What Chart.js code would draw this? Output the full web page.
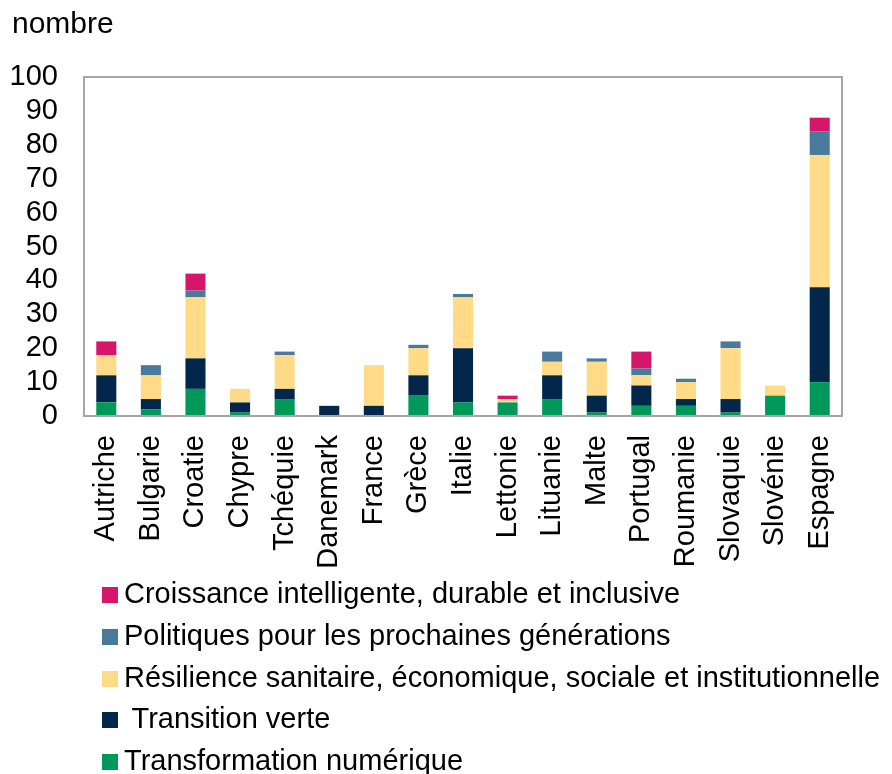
<!DOCTYPE html>
<html>
<head>
<meta charset="utf-8">
<script src="https://cdn.jsdelivr.net/npm/chart.js@4"></script>
<style>
  html, body { margin: 0; padding: 0; background: #fff; }
  #wrap { position: relative; width: 892px; height: 774px; font-family: "Liberation Sans", Arial, sans-serif; color: #000; }
  #c { position: absolute; left: 0; top: 0; }
  .unit { position: absolute; left: 12px; top: 8px; font-size: 30px; line-height: 30px; }
  .leg { position: absolute; left: 102px; font-size: 29px; line-height: 28px; white-space: pre; }
  .leg span.box { display: inline-block; width: 16px; height: 16px; margin-right: 6px; vertical-align: 0px; }
</style>
</head>
<body>
<div id="wrap">
  <canvas id="c" width="892" height="774"></canvas>
  <div class="unit">nombre</div>
  <div id="legend"></div>
</div>
<script>
const categories = ["Autriche","Bulgarie","Croatie","Chypre","Tchéquie","Danemark","France","Grèce","Italie","Lettonie","Lituanie","Malte","Portugal","Roumanie","Slovaquie","Slovénie","Espagne"];
const transformationNumerique = [4, 2, 8, 1, 5, 0, 0, 6, 4, 4, 5, 1, 3, 3, 1, 6, 10];
const transitionVerte         = [8, 3, 9, 3, 3, 3, 3, 6, 16, 0, 7, 5, 6, 2, 4, 0, 28];
const resilience              = [6, 7, 18, 4, 10, 0, 12, 8, 15, 1, 4, 10, 3, 5, 15, 3, 39];
const politiques              = [0, 3, 2, 0, 1, 0, 0, 1, 1, 0, 3, 1, 2, 1, 2, 0, 7];
const croissance              = [4, 0, 5, 0, 0, 0, 0, 0, 0, 1, 0, 0, 5, 0, 0, 0, 4];
const yTicks = [0,10,20,30,40,50,60,70,80,90,100];

const seriesNames = {
  croissance: "Croissance intelligente, durable et inclusive",
  politiques: "Politiques pour les prochaines générations",
  resilience: "Résilience sanitaire, économique, sociale et institutionnelle",
  verte: " Transition verte",
  numerique: "Transformation numérique"
};
const colors = {
  croissance: "#D6166A",
  politiques: "#4A799C",
  resilience: "#FFDA87",
  verte: "#03274A",
  numerique: "#009959"
};

const FONT = "'Liberation Sans', Arial, sans-serif";

const boxPlugin = {
  id: 'box',
  afterDraw(chart) {
    const a = chart.chartArea, ctx = chart.ctx;
    ctx.save();
    ctx.strokeStyle = '#A6A6A6';
    ctx.lineWidth = 2;
    ctx.strokeRect(a.left, a.top, a.right - a.left, a.bottom - a.top);
    ctx.restore();
  }
};

const ds = (key, data) => ({
  label: seriesNames[key], data, backgroundColor: colors[key], borderWidth: 0,
  barPercentage: 0.45, categoryPercentage: 1.0, stack: 's'
});

new Chart(document.getElementById('c'), {
  type: 'bar',
  data: {
    labels: categories,
    datasets: [
      ds('numerique', transformationNumerique),
      ds('verte', transitionVerte),
      ds('resilience', resilience),
      ds('politiques', politiques),
      ds('croissance', croissance)
    ]
  },
  options: {
    responsive: false,
    animation: false,
    events: [],
    layout: { padding: { left: 10, right: 50, top: 77, bottom: 200 } },
    plugins: { legend: { display: false }, tooltip: { enabled: false } },
    scales: {
      x: {
        stacked: true,
        afterFit(axis) { axis.height = 158; },
        grid: { display: false, drawTicks: false },
        border: { display: false },
        ticks: { color: '#000', font: { family: FONT, size: 29 }, minRotation: 90, maxRotation: 90, autoSkip: false, padding: 19 }
      },
      y: {
        stacked: true,
        min: 0, max: 100,
        afterBuildTicks(axis) { axis.ticks = yTicks.map(v => ({ value: v })); },
        afterFit(axis) { axis.width = 74; },
        grid: { display: false, drawTicks: false },
        border: { display: false },
        ticks: { color: '#000', font: { family: FONT, size: 29 }, padding: 26, autoSkip: false }
      }
    }
  },
  plugins: [boxPlugin]
});

const legendOrder = ['croissance','politiques','resilience','verte','numerique'];
const legendTops = [579, 621, 663, 704, 746];
const legEl = document.getElementById('legend');
legendOrder.forEach((k, i) => {
  const d = document.createElement('div');
  d.className = 'leg';
  d.style.top = legendTops[i] + 'px';
  const b = document.createElement('span');
  b.className = 'box';
  b.style.background = colors[k];
  d.appendChild(b);
  d.appendChild(document.createTextNode(seriesNames[k]));
  legEl.appendChild(d);
});
</script>
</body>
</html>
